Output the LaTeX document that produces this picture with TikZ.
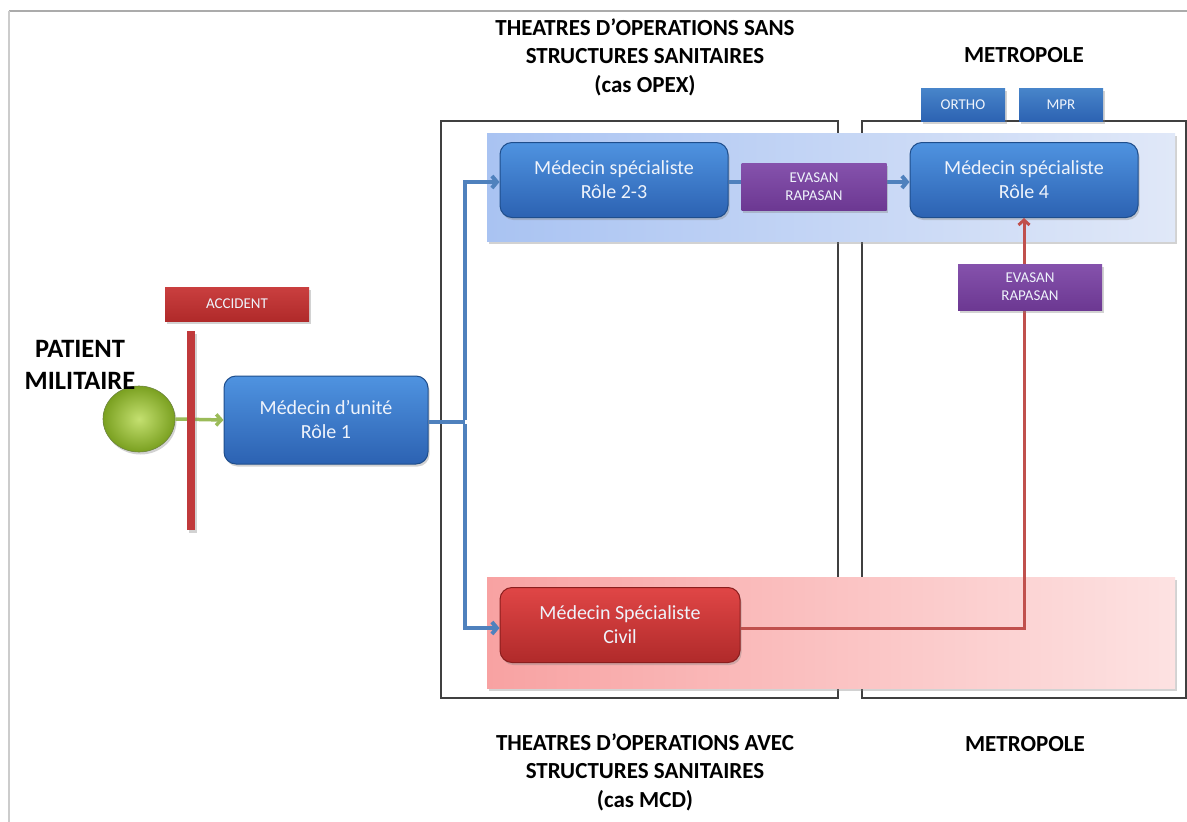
\documentclass[tikz,border=0pt]{standalone}
\usepackage{fontspec}
\setmainfont{Carlito}
\usetikzlibrary{arrows.meta,shadows,calc,shapes.geometric}
\definecolor{blueT}{HTML}{4F93E0}
\definecolor{blueD}{HTML}{2C62B2}
\definecolor{blueB}{HTML}{1F4E8C}
\definecolor{redT}{HTML}{E04646}
\definecolor{redD}{HTML}{B02A2A}
\definecolor{redB}{HTML}{8A1E1E}
\definecolor{purT}{HTML}{8552AC}
\definecolor{purD}{HTML}{6C3892}
\definecolor{linkB}{HTML}{4F81BD}
\definecolor{linkR}{HTML}{C0504D}
\definecolor{linkG}{HTML}{9BBB59}
\definecolor{bandBL}{HTML}{A9C3F2}
\definecolor{bandBR}{HTML}{E0E8F8}
\definecolor{bandRL}{HTML}{F8A2A2}
\definecolor{bandRR}{HTML}{FDE2E2}
\definecolor{ballIn}{HTML}{C4E070}
\definecolor{ballOut}{HTML}{7AA020}
\definecolor{barRed}{HTML}{C0393B}
\definecolor{txtW}{HTML}{EEF3FB}
\begin{document}
\begin{tikzpicture}[x=1pt,y=1pt,
  shad/.style={drop shadow={opacity=0.35,shadow xshift=1.5pt,shadow yshift=-2.5pt}},
  bigbox/.style={shad,rounded corners=12pt,line width=1pt,text=txtW,align=center,
    font=\fontsize{20}{24}\selectfont,inner sep=0pt},
  bluebox/.style={bigbox,draw=blueB,top color=blueT,bottom color=blueD},
  redbox/.style={bigbox,draw=redB,top color=redT,bottom color=redD},
  tag/.style={shad,text=txtW,align=center,font=\fontsize{15}{18}\selectfont,inner sep=0pt},
  purtag/.style={tag,top color=purT,bottom color=purD},
  bluetag/.style={tag,top color=blueT!90!black,bottom color=blueD},
  redtag/.style={tag,top color=redT!90!black,bottom color=redD},
  header/.style={align=center,font=\bfseries\fontsize{23}{28.5}\selectfont},
  frame/.style={draw=black!75,line width=1.2pt},
  band/.style={shad},
  link/.style={line width=4pt,linkB,-{Straight Barb[length=5pt,width=12pt]}},
  plain/.style={line width=4pt,linkB},
]
\useasboundingbox (0,0) rectangle (1187,-822);
\fill[white] (0,0) rectangle (1187,-822);
% outer page frame
\draw[black!33,line width=1.5pt] (1187,-11) -- (9,-11);
\draw[black!20,line width=2.5pt] (9,-11) -- (9,-822);
% theatre frames
\draw[frame] (441,-121) rectangle (838,-698);
\draw[frame] (862,-121) rectangle (1186,-698);
% bands
\shade[band,left color=bandBL,right color=bandBR] (487,-133) rectangle (1175,-241);
\shade[band,left color=bandRL,right color=bandRR] (487,-577) rectangle (1175,-688);
% headers
\node[header] (h1) at (645,-57) {THEATRES D’OPERATIONS SANS\\STRUCTURES SANITAIRES\\(cas OPEX)};
\node[header] (h2) at (1024,-55) {METROPOLE};
\node[header] (h3) at (645,-772) {THEATRES D’OPERATIONS AVEC\\STRUCTURES SANITAIRES\\(cas MCD)};
\node[header] (h4) at (1025,-744) {METROPOLE};
% nodes
\node[ellipse,minimum width=72pt,minimum height=66pt,inner sep=0pt,draw=linkG!70!black,line width=0.6pt,
  inner color=ballIn,outer color=ballOut,shad] (pt) at (139,-419) {};
\node[align=center,font=\bfseries\fontsize{26.5}{32}\selectfont] (pat) at (80,-365) {PATIENT\\MILITAIRE};
\node[bluebox,minimum width=204pt,minimum height=88pt] (r1) at (326,-420) {Médecin d’unité\\Rôle 1};
\node[bluebox,minimum width=228pt,minimum height=75pt] (r23) at (614,-180) {Médecin spécialiste\\Rôle 2-3};
\node[bluebox,minimum width=228pt,minimum height=75pt] (r4) at (1024,-180) {Médecin spécialiste\\Rôle 4};
\node[redbox,minimum width=240pt,minimum height=75pt] (civ) at (620,-625) {Médecin Spécialiste\\Civil};
\node[bluetag,minimum width=84pt,minimum height=33pt] (ortho) at (963,-105) {ORTHO};
\node[bluetag,minimum width=84pt,minimum height=33pt] (mpr) at (1061,-105) {MPR};
\node[redtag,minimum width=144pt,minimum height=34pt] (acc) at (237,-304) {ACCIDENT};
% connectors
\draw[line width=3.5pt,linkG,-{Straight Barb[length=5pt,width=11pt]}] (pt.east) -- (r1.west);
\node[fill=barRed,minimum width=8pt,minimum height=199pt,inner sep=0pt,shad] (bar) at (191,-430.5) {};
\coordinate (br) at (465,-422);
\draw[plain] (r1.east |- br) -- (br);
\draw[link] ($(br)+(0,2pt)$) |- ($(r23.west)+(0,-2pt)$);
\draw[link] ($(br)+(0,-2pt)$) |- ($(civ.west)+(0,-3pt)$);
\draw[link] ($(r23.east)+(0,-2pt)$) -- ($(r4.west)+(0,-2pt)$);
\draw[line width=3pt,linkR,-{Straight Barb[length=5pt,width=11pt]}] ($(civ.east)+(0,-3pt)$) -| (r4.south);
% transport tags on top of the links
\node[purtag,minimum width=145pt,minimum height=47pt] (ev1) at (814,-187) {EVASAN\\RAPASAN};
\node[purtag,minimum width=144pt,minimum height=46pt] (ev2) at (1030,-287) {EVASAN\\RAPASAN};
\end{tikzpicture}
\end{document}
